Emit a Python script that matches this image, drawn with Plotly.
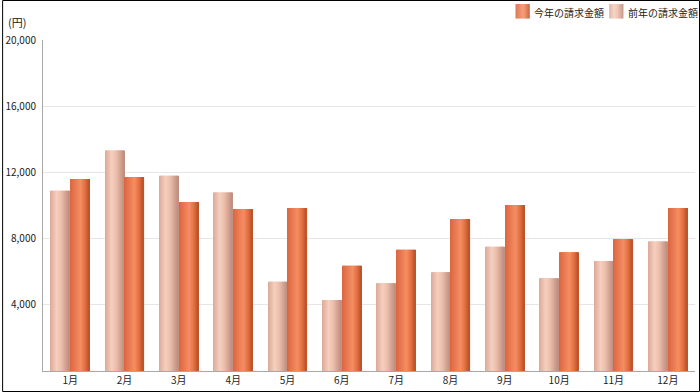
import plotly.graph_objects as go

months = ["1月", "2月", "3月", "4月", "5月", "6月", "7月", "8月", "9月", "10月", "11月", "12月"]
prev_year = [10890, 13330, 11800, 10790, 5400, 4290, 5300, 5960, 7510, 5600, 6640, 7830]
this_year = [11600, 11720, 10210, 9790, 9850, 6360, 7330, 9180, 10030, 7170, 7970, 9850]
y_ticks = [4000, 8000, 12000, 16000, 20000]

name_this = "今年の請求金額"
name_prev = "前年の請求金額"

# cylinder-like horizontal gradient stops (position, colour)
prev_stops = [(0.0, "#dba996"), (0.35, "#f6cfbe"), (0.6, "#ebbdab"), (1.0, "#bd8d7d")]
this_stops = [(0.0, "#db653f"), (0.55, "#f58d63"), (0.8, "#e06f3f"), (1.0, "#b8502a")]


def hex2rgb(h):
    h = h.lstrip("#")
    return [int(h[i:i + 2], 16) for i in (0, 2, 4)]


def grad(stops, k):
    out = []
    for j in range(k):
        t = (j + 0.5) / k
        for (p0, c0), (p1, c1) in zip(stops[:-1], stops[1:]):
            if p0 <= t <= p1:
                f = (t - p0) / (p1 - p0)
                a, b = hex2rgb(c0), hex2rgb(c1)
                rgb = [round(a[i] + (b[i] - a[i]) * f) for i in range(3)]
                out.append("rgb(%d,%d,%d)" % tuple(rgb))
                break
    return out


W, H = 700, 392
ML, MR, MT, MB = 41, 5, 40, 21
PW, PH = W - ML - MR, H - MT - MB

NSTRIP = 19
bar_w = 0.35
sw = bar_w / NSTRIP
gap = 0.016

prev_strips = grad(prev_stops, NSTRIP)
this_strips = grad(this_stops, NSTRIP)

fig = go.Figure()


def add_series(values, strips, name, start):
    for i, c in enumerate(strips):
        fig.add_trace(go.Bar(
            x=months, y=values, name=name,
            offset=start + i * sw, width=sw * 1.15,
            marker=dict(color=c, line=dict(width=0)),
            showlegend=False, hoverinfo="skip",
        ))


add_series(prev_year, prev_strips, name_prev, -gap / 2 - bar_w)
add_series(this_year, this_strips, name_this, gap / 2)

fig.update_layout(
    width=W, height=H,
    margin=dict(l=ML, r=MR, t=MT, b=MB),
    barmode="overlay",
    plot_bgcolor="white", paper_bgcolor="white",
    font=dict(family="Noto Sans CJK JP, DejaVu Sans", size=10, color="#222222"),
    showlegend=False,
    xaxis=dict(showgrid=False, showline=True, linecolor="#a8a8a8", linewidth=1,
               ticks="", tickfont=dict(size=10), fixedrange=True),
    yaxis=dict(range=[0, 20000], tickvals=y_ticks, tickformat=",",
               showgrid=True, gridcolor="#e6e6e6", gridwidth=1,
               showline=True, linecolor="#a8a8a8", linewidth=1,
               zeroline=False, ticks="", tickfont=dict(size=10), ticklabelstandoff=4,
               fixedrange=True),
)


def px_x(px):
    return (px - ML) / PW


def px_y(py):
    return (MT + PH - py) / PH


# manual legend (gradient swatches + labels)
def legend_item(x0, stops, label):
    k = 14
    strips = grad(stops, k)
    for i, c in enumerate(strips):
        fig.add_shape(type="rect", xref="paper", yref="paper",
                      x0=px_x(x0 + i), x1=px_x(x0 + i + 1.2),
                      y0=px_y(18.5), y1=px_y(4), line=dict(width=0), fillcolor=c)
    fig.add_annotation(text=label, xref="paper", yref="paper",
                       x=px_x(x0 + 17), y=px_y(12), xanchor="left", yanchor="middle",
                       showarrow=False, font=dict(size=10, color="#222222"))


legend_item(515, this_stops, name_this)
legend_item(609, prev_stops, name_prev)

fig.add_annotation(text="(円)", xref="paper", yref="paper",
                   x=px_x(4), y=px_y(22), xanchor="left", yanchor="middle",
                   showarrow=False, font=dict(size=11, color="#222222"))

fig.add_shape(type="rect", xref="paper", yref="paper",
              x0=px_x(0.5), x1=px_x(W - 0.5),
              y0=px_y(H - 0.5), y1=px_y(0.5),
              line=dict(color="#000000", width=1), fillcolor="rgba(0,0,0,0)", layer="above")

fig.write_html("out.html",
               config={"displayModeBar": False},
               post_script=("document.documentElement.style.margin='0';"
                            "document.body.style.margin='0';document.body.style.padding='0';"
                            "document.body.style.overflow='hidden';"
                            "var d=document.getElementById('{plot_id}');"
                            "d.style.position='fixed';d.style.top='0';d.style.left='0';"))
